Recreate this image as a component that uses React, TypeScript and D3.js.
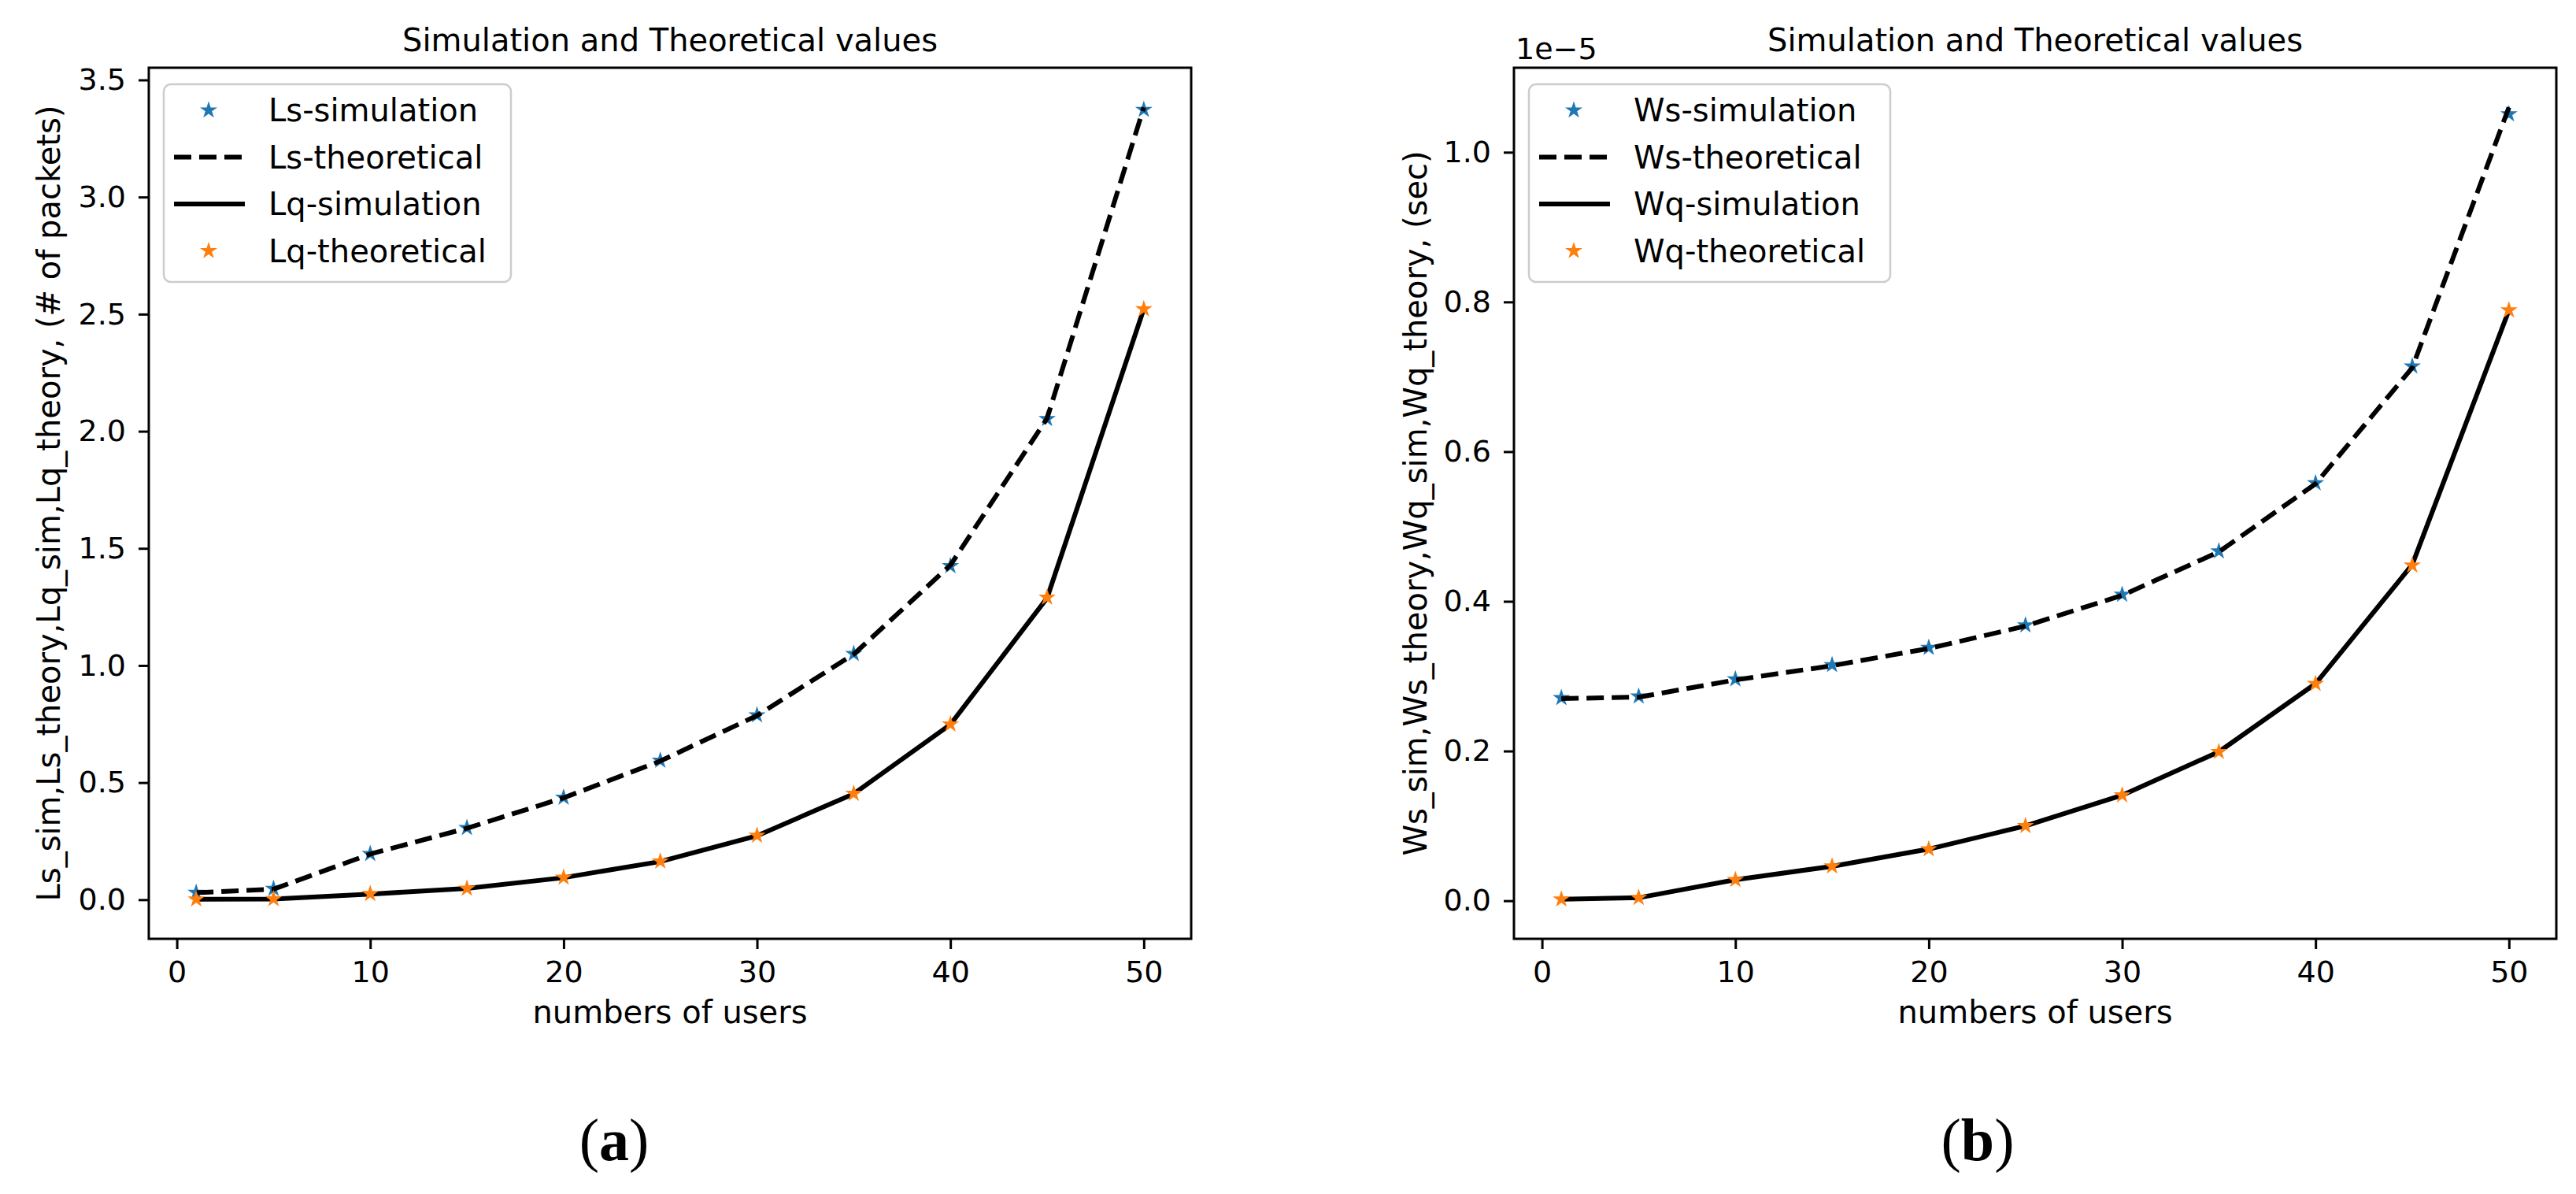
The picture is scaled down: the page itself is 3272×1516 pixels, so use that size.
import { useEffect, useRef } from 'react'
import * as d3 from 'd3'

const users = [1, 5, 10, 15, 20, 25, 30, 35, 40, 45, 50]

// (a) number of packets in system / queue
const lsSim = [0.03, 0.047, 0.196, 0.307, 0.436, 0.594, 0.788, 1.05, 1.425, 2.053, 3.373]
const lsTheory = [0.03, 0.045, 0.195, 0.305, 0.435, 0.592, 0.786, 1.048, 1.428, 2.055, 3.383]
const lqSim = [0.002, 0.003, 0.024, 0.048, 0.094, 0.163, 0.273, 0.452, 0.748, 1.288, 2.522]
const lqTheory = [0.002, 0.003, 0.025, 0.048, 0.095, 0.164, 0.274, 0.453, 0.749, 1.29, 2.522]

// (b) waiting times, in units of 1e-5 sec
const wsSim = [0.271, 0.273, 0.296, 0.315, 0.338, 0.368, 0.409, 0.467, 0.558, 0.714, 1.051]
const wsTheory = [0.27, 0.272, 0.295, 0.314, 0.337, 0.367, 0.408, 0.466, 0.557, 0.712, 1.06]
const wqSim = [0.002, 0.004, 0.028, 0.046, 0.069, 0.1, 0.141, 0.199, 0.29, 0.449, 0.789]
const wqTheory = [0.002, 0.004, 0.028, 0.046, 0.069, 0.1, 0.141, 0.199, 0.29, 0.448, 0.789]

const xTicks = [0, 10, 20, 30, 40, 50]
const lTicks = [0, 0.5, 1, 1.5, 2, 2.5, 3, 3.5]
const wTicks = [0, 0.2, 0.4, 0.6, 0.8, 1.0]

const lLegend = ['Ls-simulation', 'Ls-theoretical', 'Lq-simulation', 'Lq-theoretical']
const wLegend = ['Ws-simulation', 'Ws-theoretical', 'Wq-simulation', 'Wq-theoretical']

const W = 3272
const H = 1516
const TOP = 86
const BOTTOM = 1192
const FONT = 'DejaVu Sans'

const styles = [
  { kind: 'star', color: '#1f77b4' },
  { kind: 'dash', color: '#000' },
  { kind: 'line', color: '#000' },
  { kind: 'star', color: '#ff7f0e' },
]

const panels = [
  {
    left: 189, right: 1513, yTicks: lTicks, series: [lsSim, lsTheory, lqSim, lqTheory], labels: lLegend,
    yLabel: 'Ls_sim,Ls_theory,Lq_sim,Lq_theory, (# of packets)', yLabelX: 76,
    legendW: 441, caption: 'a', captionX: 780, offset: ''
  },
  {
    left: 1923, right: 3247, yTicks: wTicks, series: [wsSim, wsTheory, wqSim, wqTheory], labels: wLegend,
    yLabel: 'Ws_sim,Ws_theory,Wq_sim,Wq_theory, (sec)', yLabelX: 1812,
    legendW: 459, caption: 'b', captionX: 2512, offset: '1e\u22125'
  },
]

// matplotlib style auto-limits: 5% margin on each side
function padded(vals: number[]): [number, number] {
  const [lo, hi] = d3.extent(vals) as [number, number]
  const pad = (hi - lo) * 0.05
  return [lo - pad, hi + pad]
}

export default function App() {
  const svgRef = useRef<SVGSVGElement>(null)

  useEffect(() => {
    document.body.style.margin = '0'
    if (!svgRef.current) return
    const svg = d3.select(svgRef.current)
    svg.selectAll('*').remove()

    svg.append('rect').attr('width', W).attr('height', H).attr('fill', '#fff')

    const star = d3.symbol(d3.symbolStar, 150)

    panels.forEach(p => {
      const x = d3.scaleLinear().domain(padded(users)).range([p.left, p.right])
      const y = d3.scaleLinear().domain(padded(p.series.flat())).range([BOTTOM, TOP])
      const g = svg.append('g').style('font-family', FONT)

      // Data
      p.series.forEach((vals, i) => {
        const st = styles[i]
        const pts = users.map((u, j) => [x(u), y(vals[j])] as [number, number])
        if (st.kind === 'star') {
          g.append('g').selectAll('path')
            .data(pts)
            .enter()
            .append('path')
            .attr('d', star)
            .attr('transform', d => `translate(${d[0]},${d[1]})`)
            .attr('fill', st.color)
        } else {
          g.append('path')
            .attr('d', d3.line()(pts))
            .attr('fill', 'none')
            .attr('stroke', st.color)
            .attr('stroke-width', 6)
            .attr('stroke-dasharray', st.kind === 'dash' ? '22,10' : null)
        }
      })

      // Axes
      const xAxis = g.append('g')
        .attr('transform', `translate(0,${BOTTOM})`)
        .call(d3.axisBottom(x).tickValues(xTicks).tickSize(13).tickPadding(15).tickFormat(d3.format('d')))
      const yAxis = g.append('g')
        .attr('transform', `translate(${p.left},0)`)
        .call(d3.axisLeft(y).tickValues(p.yTicks).tickSize(13).tickPadding(16).tickFormat(d3.format('.1f')))
      ;[xAxis, yAxis].forEach(a => {
        a.select('.domain').remove()
        a.selectAll('line').attr('stroke', '#000').attr('stroke-width', 3)
        a.selectAll('text').attr('fill', '#000').style('font-size', '38px').style('font-family', FONT)
      })

      // Frame
      g.append('rect')
        .attr('x', p.left).attr('y', TOP)
        .attr('width', p.right - p.left).attr('height', BOTTOM - TOP)
        .attr('fill', 'none').attr('stroke', '#000').attr('stroke-width', 3)

      // Titles and labels
      g.append('text')
        .attr('x', (p.left + p.right) / 2).attr('y', 65)
        .attr('text-anchor', 'middle').style('font-size', '40px')
        .text('Simulation and Theoretical values')

      g.append('text')
        .attr('x', (p.left + p.right) / 2).attr('y', 1299)
        .attr('text-anchor', 'middle').style('font-size', '40px')
        .text('numbers of users')

      g.append('text')
        .attr('transform', `translate(${p.yLabelX},${(TOP + BOTTOM) / 2}) rotate(-90)`)
        .attr('text-anchor', 'middle').style('font-size', '40px')
        .text(p.yLabel)

      if (p.offset) {
        g.append('text')
          .attr('x', p.left + 2).attr('y', 75)
          .style('font-size', '38px')
          .text(p.offset)
      }

      // Legend
      const lx = p.left + 19
      const ly = 107
      const lg = g.append('g').attr('transform', `translate(${lx},${ly})`)
      lg.append('rect')
        .attr('width', p.legendW).attr('height', 251).attr('rx', 9)
        .attr('fill', 'rgba(255,255,255,0.8)').attr('stroke', '#cccccc').attr('stroke-width', 2.5)
      p.labels.forEach((label, i) => {
        const st = styles[i]
        const cy = 33 + i * 59.5
        if (st.kind === 'star') {
          lg.append('path').attr('d', star).attr('transform', `translate(57,${cy})`).attr('fill', st.color)
        } else {
          lg.append('line')
            .attr('x1', 13).attr('x2', 103).attr('y1', cy).attr('y2', cy)
            .attr('stroke', st.color).attr('stroke-width', 6)
            .attr('stroke-dasharray', st.kind === 'dash' ? '22,10' : null)
        }
        lg.append('text')
          .attr('x', 133).attr('y', cy + 14)
          .style('font-size', '40px')
          .text(label)
      })

      // Sub-figure caption
      const cap = svg.append('text')
        .attr('x', p.captionX).attr('y', 1473)
        .attr('text-anchor', 'middle')
        .style('font-family', 'Liberation Serif')
        .style('font-size', '76px')
      cap.append('tspan').text('(')
      cap.append('tspan').style('font-weight', 'bold').text(p.caption)
      cap.append('tspan').text(')')
    })
  }, [])

  return <svg ref={svgRef} width={W} height={H} style={{ display: 'block' }} />
}
